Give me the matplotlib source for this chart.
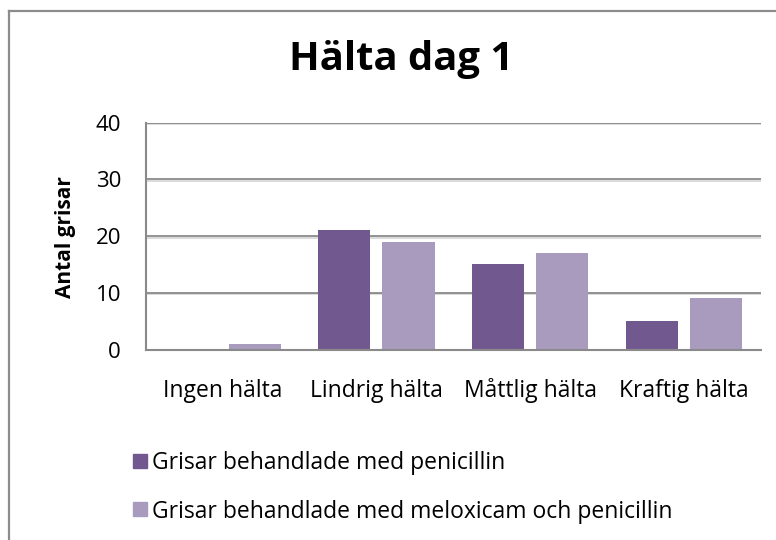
import matplotlib
matplotlib.use("Agg")
import matplotlib.pyplot as plt
import numpy as np
from matplotlib.lines import Line2D
import matplotlib.patheffects as pe

categories = ["Ingen hälta", "Lindrig hälta", "Måttlig hälta", "Kraftig hälta"]
penicillin = [0, 21, 15, 5]
meloxicam = [1, 19, 17, 9]
series_names = ["Grisar behandlade med penicillin",
                "Grisar behandlade med meloxicam och penicillin"]
yticks = [0, 10, 20, 30, 40]
title = "Hälta dag 1"
ylabel = "Antal grisar"

c1 = "#71588F"
c2 = "#A99BBD"
grid_c = "#8a8a8a"

plt.rcParams['font.family'] = ['Open Sans', 'DejaVu Sans']

W, H = 776, 540
fig = plt.figure(figsize=(W / 100, H / 100), dpi=100)

ax = fig.add_axes([146 / W, 1 - 349.5 / H, (760.5 - 146) / W, (349.5 - 122.7) / H])

x = np.arange(len(categories))
bw = 0.339
off = bw / 2 + 0.039
ax.bar(x - off, penicillin, bw, color=c1, zorder=3)
ax.bar(x + off, meloxicam, bw, color=c2, zorder=3)

ax.set_xlim(-0.5, len(categories) - 0.5)
ax.set_ylim(0, 40)
ax.set_yticks(yticks)
ax.set_yticklabels([str(v) for v in yticks], fontsize=16)
ax.set_xticks(x)
ax.set_xticklabels(categories, fontsize=16.5, va='baseline')
ax.tick_params(axis='y', length=0, pad=18)
ax.tick_params(axis='x', length=0, pad=34)

for v in yticks[1:]:
    ax.axhline(v, color=grid_c, lw=1.3, zorder=1,
               path_effects=[pe.SimpleLineShadow(offset=(0, -1.2), shadow_color='#d8d8d8', alpha=1),
                             pe.Normal()])

for s in ['top', 'right']:
    ax.spines[s].set_visible(False)
for s in ['left', 'bottom']:
    ax.spines[s].set_color(grid_c)
    ax.spines[s].set_linewidth(1.5)
    ax.spines[s].set_zorder(4)

ax.set_ylabel(ylabel, fontsize=15, fontweight='bold')
ax.yaxis.set_label_coords(-(146 - 66) / (760.5 - 146), (349.5 - 237) / (349.5 - 122.7))
ax.yaxis.label.set_va('center')

fig.text(401 / W, 1 - 70 / H, title, fontsize=28.8, fontweight='bold',
         ha='center', va='baseline')

handles = [Line2D([], [], ls='none', marker='s', markersize=10.5, color=c1),
           Line2D([], [], ls='none', marker='s', markersize=10.5, color=c2)]
fig.legend(handles, series_names, loc='upper left',
           bbox_to_anchor=(122 / W, 1 - 440 / H), frameon=False, fontsize=16.5,
           handlelength=0.6, handletextpad=0.2, labelspacing=1.05, borderpad=0)

# outer chart border (left and top only visible)
fig.add_artist(Line2D([8.8 / W, 8.8 / W], [-0.1, 1 - 10.8 / H], color='#8c8c8c', lw=1.6,
                      transform=fig.transFigure))
fig.add_artist(Line2D([8.8 / W, 1.1], [1 - 10.8 / H, 1 - 10.8 / H], color='#8c8c8c', lw=1.6,
                      transform=fig.transFigure))

fig.savefig("out.png", dpi=100)
